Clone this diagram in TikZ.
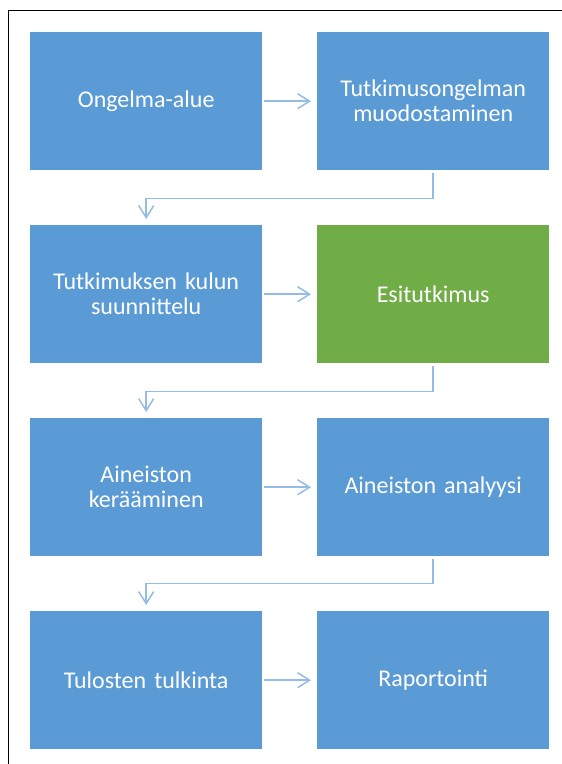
\documentclass[tikz,border=0pt]{standalone}
\usepackage{fontspec}
\setmainfont{Carlito}
\usetikzlibrary{arrows.meta}
\definecolor{boxblue}{HTML}{5B9BD5}
\definecolor{boxgreen}{HTML}{70AD47}
\definecolor{linkblue}{HTML}{94BCE4}
\begin{document}
\begin{tikzpicture}[x=1pt,y=-1pt,
  stepbox/.style={rectangle, fill=boxblue, draw=none, minimum width=232pt, minimum height=138pt,
    inner sep=0pt, anchor=north west, text=white, font=\fontsize{24}{25}\selectfont,
    align=center, text width=220pt},
  greenbox/.style={stepbox, fill=boxgreen},
  link/.style={draw=linkblue, line width=1.5pt, -{Straight Barb[length=12pt,width=15pt,line width=1.5pt]}},
  frameline/.style={draw=black, line width=1pt}]
\useasboundingbox (0,0) rectangle (562,764);
\draw[frameline] (8,764) -- (8,10) -- (562,10);
\node[stepbox] (a1) at (30,32) {Ongelma-alue};
\node[stepbox] (b1) at (317,32) {Tutkimusongelman\\muodostaminen};
\node[stepbox] (a2) at (30,225) {Tutkimuksen kulun\\suunnittelu};
\node[greenbox] (b2) at (317,225) {Esitutkimus};
\node[stepbox] (a3) at (30,418) {Aineiston\\kerääminen};
\node[stepbox] (b3) at (317,418) {Aineiston analyysi};
\node[stepbox] (a4) at (30,611) {Tulosten tulkinta};
\node[stepbox] (b4) at (317,611) {Raportointi};
\foreach \r in {1,2,3,4}{
  \draw[link] ([xshift=2pt]a\r.east) -- ([xshift=-6pt]b\r.west);
}
\draw[link] ([yshift=-3pt]b1.south) -- ++(0,25) -| ([yshift=6pt]a2.north);
\draw[link] ([yshift=-3pt]b2.south) -- ++(0,25) -| ([yshift=6pt]a3.north);
\draw[link] ([yshift=-3pt]b3.south) -- ++(0,24) -| ([yshift=6pt]a4.north);
\end{tikzpicture}
\end{document}
